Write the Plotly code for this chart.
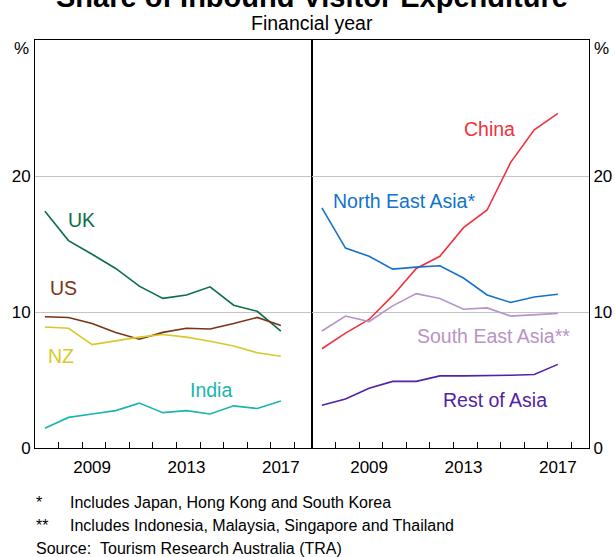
import plotly.graph_objects as go

# financial years (year ending June)
years = list(range(2007, 2018))

# left panel, share of inbound visitor expenditure (%)
uk = [17.4, 15.25, 14.25, 13.2, 11.9, 11.0, 11.25, 11.85, 10.5, 10.05, 8.6]
us = [9.65, 9.6, 9.15, 8.5, 8.0, 8.5, 8.8, 8.75, 9.15, 9.6, 9.0]
nz = [8.9, 8.8, 7.6, 7.9, 8.15, 8.35, 8.15, 7.85, 7.5, 7.0, 6.75]
india = [1.45, 2.25, 2.5, 2.75, 3.3, 2.6, 2.75, 2.5, 3.1, 2.9, 3.45]

# right panel
china = [7.3, 8.45, 9.45, 11.2, 13.2, 14.1, 16.2, 17.5, 21.0, 23.4, 24.6]
ne_asia = [17.65, 14.7, 14.1, 13.15, 13.3, 13.4, 12.5, 11.25, 10.7, 11.1, 11.3]
se_asia = [8.6, 9.7, 9.3, 10.45, 11.35, 11.0, 10.2, 10.3, 9.7, 9.8, 9.9]
rest_asia = [3.15, 3.6, 4.4, 4.9, 4.9, 5.3, 5.3, 5.3, 5.35, 5.4, 6.15]

year_ticks = [2009, 2013, 2017]
y_ticks = [0, 10, 20]

FONT = "Liberation Sans, Arial, sans-serif"

left = [
    ("UK", uk, "#0b6e45", 2008.57, 16.8),
    ("US", us, "#7a3414", 2007.77, 11.75),
    ("NZ", nz, "#d9c82a", 2007.68, 6.75),
    ("India", india, "#1ab5ad", 2014.05, 4.3),
]
right = [
    ("China", china, "#f0313d", 2014.1, 23.45),
    ("North East Asia*", ne_asia, "#1273cc", 2010.5, 18.15),
    ("South East Asia**", se_asia, "#b793c8", 2014.28, 8.2),
    ("Rest of Asia", rest_asia, "#5321a6", 2014.35, 3.5),
]

fig = go.Figure()
annotations = []
for group, xa, ya in [(left, "x", "y"), (right, "x2", "y2")]:
    for name, vals, color, lx, ly in group:
        fig.add_trace(go.Scatter(
            x=years, y=vals, mode="lines", name=name,
            line=dict(color=color, width=1.6),
            xaxis=xa, yaxis=ya, showlegend=False,
        ))
        annotations.append(dict(
            x=lx, y=ly, xref=xa, yref=ya, text=name, showarrow=False,
            yanchor="middle",
            font=dict(size=19.5, color=color, family=FONT),
        ))

x_range = [2006.58, 2018.32]
minor_ticks = [2006.58 + k for k in range(1, 12)]
xaxis_style = dict(
    range=x_range, tickvals=year_ticks, ticks="", showgrid=False,
    showline=True, linecolor="black", linewidth=1, mirror=True,
    tickfont=dict(size=17, color="black", family=FONT), zeroline=False,
    automargin=False, ticklabelstandoff=4,
    minor=dict(tickvals=minor_ticks, ticks="inside", ticklen=6,
               tickcolor="black", tickwidth=1, showgrid=False),
)
yaxis_style = dict(
    range=[0, 30], tickvals=y_ticks, ticks="", showgrid=True,
    gridcolor="#c4c4c4", gridwidth=1, zeroline=False,
    showline=True, linecolor="black", linewidth=1, mirror=True,
    tickfont=dict(size=17, color="black", family=FONT),
    automargin=False,
)

fig.update_layout(
    width=615, height=557,
    margin=dict(l=35, r=26, t=39.5, b=109.3),
    paper_bgcolor="white", plot_bgcolor="white",
    font=dict(family=FONT, color="black"),
    xaxis=dict(domain=[0, 0.5], anchor="y", **xaxis_style),
    xaxis2=dict(domain=[0.5, 1], anchor="y2", **xaxis_style),
    yaxis=dict(anchor="x", side="left", **yaxis_style),
    yaxis2=dict(anchor="x2", side="right", **yaxis_style),
)

ppx = lambda px: (px - 35) / 554
ppy = lambda py: (447.7 - py) / 408.2

annotations += [
    dict(x=0.5, y=ppy(-3.5), xref="paper", yref="paper", showarrow=False,
         text="<b>Share of Inbound Visitor Expenditure</b>",
         font=dict(size=29, family=FONT), yanchor="middle"),
    dict(x=0.5, y=ppy(22), xref="paper", yref="paper", showarrow=False,
         text="Financial year", yanchor="middle",
         font=dict(size=19.5, family=FONT)),
    dict(x=ppx(31), y=ppy(48), xref="paper", yref="paper", showarrow=False,
         text="%", xanchor="right", yanchor="middle",
         font=dict(size=17, family=FONT)),
    dict(x=ppx(592), y=ppy(48), xref="paper", yref="paper", showarrow=False,
         text="%", xanchor="left", yanchor="middle",
         font=dict(size=17, family=FONT)),
]
notes = [
    ("*", "Includes Japan, Hong Kong and South Korea", 502, 68),
    ("**", "Includes Indonesia, Malaysia, Singapore and Thailand", 525, 68),
    ("Source:", "Tourism Research Australia (TRA)", 548, 98),
]
for mark, text, py, tx in notes:
    for x, t in [(34, mark), (tx, text)]:
        annotations.append(dict(x=ppx(x), y=ppy(py), xref="paper", yref="paper",
                                text=t, showarrow=False, xanchor="left",
                                yanchor="middle",
                                font=dict(size=16, family=FONT)))

fig.update_layout(annotations=annotations)
# drop the default page margin so the figure sits at the window's corner
fig.write_html("out.html", config={"displayModeBar": False},
               post_script="document.body.style.margin='0';")
